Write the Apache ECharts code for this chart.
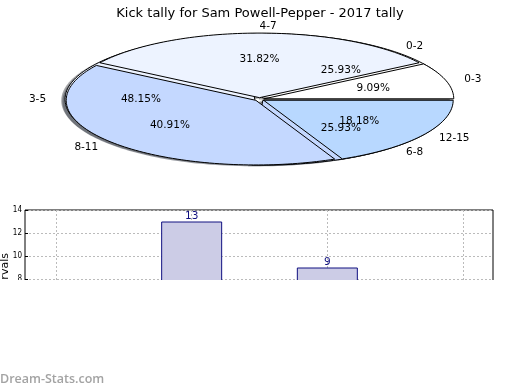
<!DOCTYPE html>
<html>
<head>
<meta charset="utf-8">
<script src="https://cdn.jsdelivr.net/npm/echarts@6/dist/echarts.min.js"></script>
<style>html,body{margin:0;padding:0;background:#fff}#c{width:520px;height:390px}</style>
</head>
<body>
<div id="c"></div>
<script>
// ---- data ----
const titleText = 'Kick tally for Sam Powell-Pepper - 2017 tally';
const pie1Labels = ['0-2', '3-5', '6-8'];
const pie1Counts = [7, 13, 7];
const pie2Labels = ['0-3', '4-7', '8-11', '12-15'];
const pie2Counts = [2, 7, 9, 4];
const barCategories = ['A', 'B', 'C', 'D'];
const barValues = [null, 13, 9, null];
const yAxisName = 'Intervals';

// ---- styles / geometry ----
const pie1Colors = ['#ffffff', '#edf3ff', '#c4d8ff'];
const pie2Colors = ['#ffffff', '#edf3ff', '#c4d8ff', '#b8d8ff'];
const CX = 259.5, CY = 99.3, RX = 189.7, RY = 64.6, EXPLODE = 0.025;
const FONT = 'DejaVu Sans';

function buildWedges(counts, labels, colors, pieId) {
  const tot = counts.reduce((a, b) => a + b, 0);
  let a = 0;
  return counts.map((c, i) => {
    const s = a; a += c / tot * 360;
    const mid = (s + a) / 2 * Math.PI / 180;
    return {
      start: s, end: a, mid: mid, color: colors[i], label: labels[i],
      pct: (c / tot * 100).toFixed(2) + '%', pie: pieId,
      ox: EXPLODE * RX * Math.cos(mid), oy: -EXPLODE * RY * Math.sin(mid)
    };
  });
}
const wedges1 = buildWedges(pie1Counts, pie1Labels, pie1Colors, 1);
const wedges2 = buildWedges(pie2Counts, pie2Labels, pie2Colors, 2);
const allWedges = wedges1.concat(wedges2);

function wedgePoints(w, dx, dy) {
  const cx = CX + w.ox + dx, cy = CY + w.oy + dy;
  const pts = [[cx, cy]];
  const n = Math.max(4, Math.ceil((w.end - w.start) / 1.5));
  for (let i = 0; i <= n; i++) {
    const a = (w.start + (w.end - w.start) * i / n) * Math.PI / 180;
    pts.push([cx + RX * Math.cos(a), cy - RY * Math.sin(a)]);
  }
  return pts;
}
function darken(hex) {
  const r = parseInt(hex.substr(1, 2), 16), g = parseInt(hex.substr(3, 2), 16), b = parseInt(hex.substr(5, 2), 16);
  return 'rgba(' + Math.round(r * 0.3) + ',' + Math.round(g * 0.3) + ',' + Math.round(b * 0.3) + ',0.5)';
}

// labels
const labelItems = [];
allWedges.forEach(w => {
  const c = Math.cos(w.mid), s = Math.sin(w.mid);
  const bx = CX + w.ox, by = CY + w.oy;
  labelItems.push({ x: bx + 1.1 * RX * c, y: by - 1.1 * RY * s, text: w.label, align: c >= 0 ? 'left' : 'right' });
  labelItems.push({ x: bx + 0.6 * RX * c, y: by - 0.6 * RY * s, text: w.pct, align: 'center' });
});

const gridLine = { show: true, lineStyle: { color: '#bbbbbb', type: [2, 2], width: 1 } };
const chart = echarts.init(document.getElementById('c'), null, { renderer: 'canvas' });
const option = {
  animation: false,
  backgroundColor: '#ffffff',
  title: {
    text: titleText, left: 'center', top: 2,
    textStyle: { fontFamily: FONT, fontSize: 13, fontWeight: 'normal', color: '#000' }
  },
  grid: [
    { left: 25, right: 27, top: 210, bottom: 19, show: true, borderColor: '#000', borderWidth: 1, backgroundColor: 'transparent' },
    { left: 56, right: 57, top: 210, bottom: 19 }
  ],
  xAxis: [
    { gridIndex: 0, type: 'value', min: 0, max: 1, show: false },
    {
      gridIndex: 1, type: 'category', data: barCategories, boundaryGap: false, position: 'top',
      axisLine: { show: false }, axisLabel: { show: false },
      axisTick: { show: true, inside: true, length: 3, lineStyle: { color: '#000' } },
      splitLine: gridLine
    }
  ],
  yAxis: [
    {
      gridIndex: 0, type: 'value', min: 0, max: 14, interval: 2,
      axisLine: { show: false },
      axisTick: { show: true, inside: true, length: 3, lineStyle: { color: '#000' } },
      axisLabel: { fontFamily: 'DejaVu Sans Condensed, Liberation Sans Narrow, ' + FONT, fontSize: 8, color: '#000', margin: 3 },
      splitLine: gridLine
    },
    { gridIndex: 1, type: 'value', min: 0, max: 14, interval: 2, show: false }
  ],
  series: [
    {
      type: 'custom', coordinateSystem: 'none', z: 1, silent: true,
      data: allWedges.map((w, i) => [i]),
      renderItem: function (params) {
        const w = allWedges[params.dataIndex];
        return { type: 'polygon', shape: { points: wedgePoints(w, -0.02 * RX, 0.02 * RY) }, style: { fill: darken(w.color) } };
      }
    },
    {
      type: 'custom', coordinateSystem: 'none', z: 2, silent: true,
      data: allWedges.map((w, i) => [i]),
      renderItem: function (params) {
        const w = allWedges[params.dataIndex];
        return { type: 'polygon', shape: { points: wedgePoints(w, 0, 0) }, style: { fill: w.color, stroke: '#000', lineWidth: 1, lineJoin: 'round' } };
      }
    },
    {
      type: 'custom', coordinateSystem: 'none', z: 3, silent: true,
      data: labelItems.map((l, i) => [i]),
      renderItem: function (params) {
        const l = labelItems[params.dataIndex];
        return { type: 'text', x: l.x, y: l.y, style: { text: l.text, fill: '#000', font: '10.5px "DejaVu Sans"', align: l.align, verticalAlign: 'middle' } };
      }
    },
    {
      type: 'bar', xAxisIndex: 1, yAxisIndex: 1, data: barValues, barWidth: 61,
      itemStyle: { color: '#ccccE6', borderColor: '#101080', borderWidth: 1 },
      label: { show: true, position: 'top', distance: 0, color: '#101080', fontFamily: FONT, fontSize: 10.5 }
    }
  ],
  graphic: [
    { type: 'text', z: 50, x: 5, y: 277, rotation: Math.PI / 2,
      style: { text: yAxisName, fill: '#000', font: '11px "DejaVu Sans"', align: 'center', verticalAlign: 'middle' } },
    { type: 'rect', z: 100, shape: { x: 0, y: 280, width: 520, height: 110 }, style: { fill: '#ffffff' } },
    { type: 'text', z: 101, x: 0, y: 373, style: { text: 'Dream-Stats.com', fill: '#a3a3a3', font: '600 12.5px "Open Sans"' } }
  ]
};
chart.setOption(option);
</script>
</body>
</html>
